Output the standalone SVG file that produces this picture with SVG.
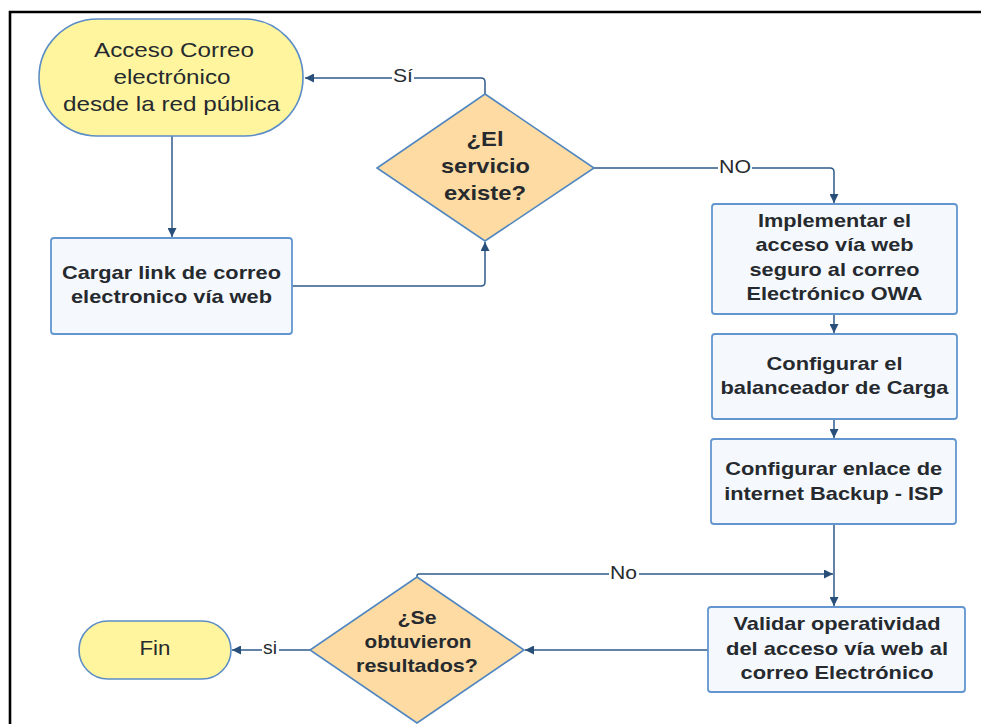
<svg xmlns="http://www.w3.org/2000/svg" width="981" height="724" viewBox="0 0 981 724">
<defs>
<style>
.term{fill:#fff59f;stroke:#5b8dc6;stroke-width:1.6}
.proc{fill:#f5f9fe;stroke:#6396cf;stroke-width:1.8}
.dec{fill:#fddba2;stroke:#4f86c0;stroke-width:1.6}
.t{font-family:"Liberation Sans",Arial,sans-serif;fill:#262a2e;text-anchor:middle}
.reg{font-size:21px}
.bold{font-size:19px;font-weight:bold}
.dbold{font-size:21px;font-weight:bold}
.lbl{font-family:"Liberation Sans",Arial,sans-serif;fill:#262a2e;text-anchor:middle;font-size:18px}
.conn{fill:none;stroke:#2f5b88;stroke-width:1.5}
.lblbg{fill:#ffffff}
</style>
<marker id="arr" viewBox="0 0 10 10" refX="10" refY="5" markerWidth="9" markerHeight="9" markerUnits="userSpaceOnUse" orient="auto">
<path d="M0,0 L10,5 L0,10 Z" fill="#274f7a"/>
</marker>
</defs>
<rect x="0" y="0" width="981" height="724" fill="#ffffff"/>
<path d="M10,726 V12 H983" fill="none" stroke="#000000" stroke-width="2.6"/>

<g id="connectors">
<path class="conn" d="M172,136 V237" marker-end="url(#arr)"/>
<path class="conn" d="M292,286 H481 Q485,286 485,282 V242" marker-end="url(#arr)"/>
<path class="conn" d="M485,94 V82 Q485,78 481,78 H305" marker-end="url(#arr)"/>
<path class="conn" d="M594,168 H830 Q834,168 834,172 V203" marker-end="url(#arr)"/>
<path class="conn" d="M834,314 V333" marker-end="url(#arr)"/>
<path class="conn" d="M834,419 V438" marker-end="url(#arr)"/>
<path class="conn" d="M834,524 V606" marker-end="url(#arr)"/>
<path class="conn" d="M417,577 V578 V576 Q417,574 419,574 H833" marker-end="url(#arr)"/>
<path class="conn" d="M708,650 H525" marker-end="url(#arr)"/>
<path class="conn" d="M310,650 H232" marker-end="url(#arr)"/>
<rect class="lblbg" x="392" y="68" width="22" height="18"/>
<text class="lbl" x="403" y="82" textLength="20" lengthAdjust="spacingAndGlyphs">Sí</text>
<rect class="lblbg" x="718" y="158" width="34" height="18"/>
<text class="lbl" x="735" y="172.5" textLength="32" lengthAdjust="spacingAndGlyphs">NO</text>
<rect class="lblbg" x="609" y="564" width="30" height="18"/>
<text class="lbl" x="623.5" y="578.5" textLength="27" lengthAdjust="spacingAndGlyphs">No</text>
<rect class="lblbg" x="262" y="640" width="17" height="18"/>
<text class="lbl" x="270" y="654" textLength="14" lengthAdjust="spacingAndGlyphs">si</text>
</g>

<g id="start">
<rect class="term" x="39" y="19" width="264" height="117" rx="58.5" ry="58.5"/>
<text class="t reg" x="174" y="57" textLength="160" lengthAdjust="spacingAndGlyphs">Acceso Correo</text>
<text class="t reg" x="172" y="84" textLength="117" lengthAdjust="spacingAndGlyphs">electrónico</text>
<text class="t reg" x="171.5" y="111" textLength="217" lengthAdjust="spacingAndGlyphs">desde la red pública</text>
</g>

<g id="cargar">
<rect class="proc" x="51" y="238" width="241" height="96" rx="3"/>
<text class="t bold" x="171.5" y="279" textLength="219" lengthAdjust="spacingAndGlyphs">Cargar link de correo</text>
<text class="t bold" x="171.5" y="303" textLength="201" lengthAdjust="spacingAndGlyphs">electronico vía web</text>
</g>

<g id="decision1">
<polygon class="dec" points="485,94 594,168 485,241 377,168"/>
<text class="t dbold" x="485" y="146" textLength="37" lengthAdjust="spacingAndGlyphs">¿El</text>
<text class="t dbold" x="485.5" y="173" textLength="89" lengthAdjust="spacingAndGlyphs">servicio</text>
<text class="t dbold" x="485" y="199.5" textLength="82" lengthAdjust="spacingAndGlyphs">existe?</text>
</g>

<g id="implementar">
<rect class="proc" x="712" y="204" width="245" height="110" rx="3"/>
<text class="t bold" x="834.5" y="226.5" textLength="153" lengthAdjust="spacingAndGlyphs">Implementar el</text>
<text class="t bold" x="834.5" y="251" textLength="158" lengthAdjust="spacingAndGlyphs">acceso vía web</text>
<text class="t bold" x="834.5" y="275.5" textLength="170" lengthAdjust="spacingAndGlyphs">seguro al correo</text>
<text class="t bold" x="834.5" y="300" textLength="176" lengthAdjust="spacingAndGlyphs">Electrónico OWA</text>
</g>

<g id="balanceador">
<rect class="proc" x="712" y="334" width="245" height="85" rx="3"/>
<text class="t bold" x="834.5" y="370" textLength="136" lengthAdjust="spacingAndGlyphs">Configurar el</text>
<text class="t bold" x="834.5" y="394" textLength="228" lengthAdjust="spacingAndGlyphs">balanceador de Carga</text>
</g>

<g id="enlace">
<rect class="proc" x="711" y="439" width="245" height="85" rx="3"/>
<text class="t bold" x="833.7" y="475" textLength="217" lengthAdjust="spacingAndGlyphs">Configurar enlace de</text>
<text class="t bold" x="833.7" y="499.5" textLength="219" lengthAdjust="spacingAndGlyphs">internet Backup - ISP</text>
</g>

<g id="validar">
<rect class="proc" x="708" y="607" width="257" height="85" rx="3"/>
<text class="t bold" x="837" y="630" textLength="207" lengthAdjust="spacingAndGlyphs">Validar operatividad</text>
<text class="t bold" x="837" y="654.5" textLength="222" lengthAdjust="spacingAndGlyphs">del acceso vía web al</text>
<text class="t bold" x="837" y="679" textLength="193" lengthAdjust="spacingAndGlyphs">correo Electrónico</text>
</g>

<g id="decision2">
<polygon class="dec" points="417,577 524,650 417,723 310,650"/>
<text class="t bold" x="417" y="623.5" textLength="39" lengthAdjust="spacingAndGlyphs">¿Se</text>
<text class="t bold" x="418" y="647.5" textLength="107" lengthAdjust="spacingAndGlyphs">obtuvieron</text>
<text class="t bold" x="417" y="672" textLength="122" lengthAdjust="spacingAndGlyphs">resultados?</text>
</g>

<g id="fin">
<rect class="term" x="79" y="621" width="152" height="58" rx="29" ry="29"/>
<text class="t reg" x="155" y="655" textLength="31" lengthAdjust="spacingAndGlyphs">Fin</text>
</g>
</svg>
